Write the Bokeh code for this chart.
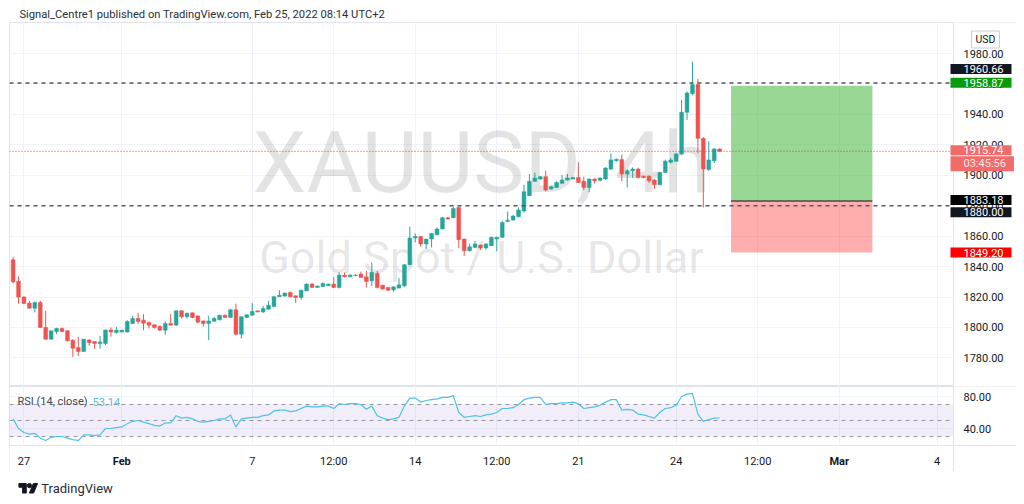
from bokeh.plotting import figure
from bokeh.layouts import column
from bokeh.models import (ColumnDataSource, Range1d, FixedTicker, Span, Label, Grid,
                          NumeralTickFormatter, BoxAnnotation, LinearAxis)
from bokeh.embed import file_html
from bokeh.resources import INLINE

# ------------------------------------------------------------------ data
opens = [1844.5, 1830.3, 1820.0, 1816.0, 1812.7, 1816.4, 1800.0, 1792.3, 1797.3, 1799.3,
         1797.8, 1791.6, 1786.8, 1784.2, 1791.8, 1790.7, 1789.4, 1789.4, 1798.4, 1796.7,
         1797.0, 1797.0, 1802.6, 1805.9, 1804.8, 1803.2, 1801.7, 1800.6, 1798.2, 1802.6,
         1801.5, 1810.9, 1807.0, 1809.6, 1807.6, 1804.3, 1802.6, 1804.1, 1805.0, 1808.1,
         1806.6, 1811.6, 1795.6, 1806.6, 1808.1, 1810.9, 1810.2, 1812.0, 1813.8, 1820.2,
         1820.6, 1823.0, 1820.8, 1819.7, 1824.1, 1828.5, 1826.3, 1826.9, 1827.4, 1828.5,
         1826.3, 1834.4, 1833.3, 1834.1, 1835.1, 1833.3, 1830.6, 1835.5, 1827.8, 1826.3,
         1824.7, 1825.9, 1827.4, 1841.2, 1858.8, 1859.7, 1854.9, 1858.1, 1860.9, 1864.7,
         1872.1, 1872.1, 1878.8, 1858.1, 1850.4, 1852.6, 1854.2, 1852.2, 1853.7, 1858.1,
         1859.2, 1869.7, 1870.6, 1872.8, 1876.5, 1886.6, 1896.0, 1897.5, 1899.1, 1891.0,
         1892.0, 1894.7, 1896.9, 1897.5, 1898.6, 1896.0, 1892.0, 1897.5, 1896.7, 1897.5,
         1904.1, 1909.6, 1910.3, 1900.8, 1903.0, 1904.1, 1899.4, 1899.4, 1896.9, 1893.8,
         1901.9, 1908.5, 1909.2, 1914.0, 1941.4, 1953.5, 1959.6, 1924.3, 1903.8, 1909.6,
         1917.3]
highs = [1846.5, 1833.6, 1820.5, 1817.5, 1817.0, 1817.5, 1810.9, 1797.8, 1799.8, 1800.0,
         1798.2, 1792.3, 1793.8, 1792.3, 1792.3, 1791.0, 1794.5, 1798.4, 1800.0, 1800.4,
         1798.5, 1804.8, 1807.6, 1809.6, 1808.8, 1803.9, 1802.0, 1801.3, 1803.9, 1808.8,
         1811.0, 1811.4, 1809.8, 1809.8, 1808.0, 1804.5, 1807.6, 1806.8, 1808.3, 1808.4,
         1812.2, 1815.7, 1807.2, 1808.5, 1816.0, 1811.0, 1814.2, 1817.5, 1820.4, 1824.5,
         1822.8, 1823.6, 1821.0, 1824.7, 1829.0, 1829.1, 1827.5, 1829.6, 1828.8, 1833.3,
         1836.2, 1836.2, 1835.0, 1835.0, 1836.6, 1837.2, 1842.7, 1837.2, 1828.0, 1826.6,
         1827.0, 1832.4, 1841.6, 1866.2, 1861.8, 1860.0, 1858.3, 1862.0, 1865.8, 1872.5,
         1872.7, 1879.3, 1879.5, 1858.3, 1855.2, 1857.0, 1854.5, 1855.2, 1859.6, 1859.6,
         1870.1, 1876.2, 1874.0, 1878.9, 1893.8, 1900.8, 1901.9, 1899.5, 1903.0, 1893.0,
         1896.0, 1900.2, 1900.8, 1899.0, 1908.5, 1899.1, 1898.0, 1898.0, 1898.6, 1905.2,
         1914.4, 1911.0, 1913.6, 1904.0, 1905.2, 1905.0, 1899.8, 1900.0, 1897.5, 1902.2,
         1910.3, 1911.5, 1914.6, 1949.5, 1955.0, 1974.7, 1963.3, 1925.0, 1922.3, 1917.8,
         1917.6]
lows = [1829.0, 1815.7, 1815.3, 1812.5, 1809.9, 1799.5, 1792.0, 1792.0, 1795.6, 1797.0,
        1790.7, 1780.7, 1781.3, 1784.0, 1787.9, 1786.0, 1786.0, 1788.4, 1794.0, 1796.0,
        1796.8, 1796.7, 1802.4, 1802.2, 1798.2, 1799.3, 1799.3, 1797.8, 1795.1, 1801.2,
        1801.3, 1805.9, 1805.9, 1806.0, 1802.9, 1800.6, 1791.6, 1803.8, 1804.8, 1806.3,
        1806.4, 1795.1, 1792.7, 1806.3, 1807.8, 1810.0, 1809.4, 1811.8, 1813.2, 1820.0,
        1820.4, 1819.6, 1816.0, 1818.2, 1823.9, 1826.0, 1826.0, 1826.7, 1827.2, 1826.0,
        1825.6, 1833.0, 1833.0, 1833.8, 1832.7, 1826.3, 1827.4, 1825.6, 1825.0, 1824.0,
        1823.6, 1825.7, 1826.7, 1841.0, 1855.9, 1853.0, 1851.5, 1852.6, 1860.7, 1864.5,
        1871.0, 1871.9, 1852.2, 1847.1, 1850.0, 1852.4, 1851.0, 1851.2, 1853.5, 1850.0,
        1858.8, 1869.2, 1870.2, 1872.3, 1875.5, 1886.4, 1895.8, 1897.0, 1889.4, 1890.5,
        1891.8, 1894.5, 1896.5, 1897.3, 1895.0, 1890.3, 1888.8, 1894.5, 1896.0, 1897.0,
        1903.5, 1909.0, 1896.0, 1892.0, 1898.2, 1898.0, 1898.0, 1895.0, 1891.0, 1893.5,
        1901.5, 1907.8, 1908.8, 1913.5, 1936.4, 1953.0, 1914.4, 1878.9, 1903.0, 1908.0,
        1915.5]
closes = [1830.0, 1820.0, 1815.7, 1812.7, 1816.4, 1800.0, 1792.3, 1797.8, 1799.3, 1797.3,
          1791.2, 1786.4, 1784.2, 1792.3, 1790.0, 1789.4, 1790.5, 1798.4, 1797.0, 1798.2,
          1798.2, 1803.9, 1805.9, 1803.9, 1802.8, 1801.5, 1800.0, 1798.2, 1802.6, 1801.5,
          1810.9, 1807.0, 1809.3, 1806.6, 1803.5, 1802.6, 1804.3, 1805.9, 1808.1, 1806.6,
          1811.6, 1795.6, 1807.0, 1808.3, 1810.5, 1810.2, 1812.4, 1814.6, 1820.2, 1821.2,
          1822.6, 1820.2, 1819.7, 1824.5, 1828.5, 1826.3, 1827.2, 1828.9, 1828.5, 1826.3,
          1834.4, 1833.3, 1834.4, 1834.4, 1832.9, 1830.2, 1836.2, 1826.3, 1825.2, 1824.5,
          1826.7, 1828.0, 1841.2, 1858.8, 1859.7, 1854.9, 1858.1, 1861.8, 1864.7, 1872.1,
          1871.3, 1878.2, 1857.7, 1850.4, 1853.0, 1854.9, 1852.2, 1854.9, 1859.2, 1859.2,
          1869.0, 1870.5, 1873.2, 1877.2, 1889.2, 1896.0, 1898.2, 1899.1, 1890.3, 1892.5,
          1895.3, 1896.9, 1898.2, 1898.6, 1895.3, 1892.0, 1897.5, 1896.4, 1898.2, 1904.8,
          1910.1, 1910.5, 1900.8, 1903.0, 1904.1, 1898.6, 1898.6, 1896.4, 1893.8, 1901.9,
          1909.2, 1910.1, 1914.0, 1941.4, 1954.1, 1959.6, 1924.3, 1904.1, 1910.1, 1917.3,
          1915.74]
rsi = [52, 40, 35, 33, 34, 28, 25, 29, 30, 30,
       28, 26, 25, 32, 32, 31, 32, 40, 40, 41,
       42, 46, 49, 50, 48, 46, 44, 43, 47, 47,
       56, 53, 54, 52, 49, 48, 49, 50, 52, 52,
       57, 42, 52, 53, 54, 54, 56, 57, 62, 63,
       63, 61, 62, 65, 68, 67, 67, 68, 68, 65,
       71, 70, 71, 71, 70, 64, 68, 56, 53, 51,
       52, 54, 68, 78, 78, 73, 75, 76, 77, 79,
       79, 81, 60, 54, 55, 56, 55, 57, 58, 60,
       65, 65, 66, 70, 76, 78, 79, 79, 70, 71,
       71, 72, 72, 73, 71, 65, 66, 67, 69, 73,
       76, 76, 63, 64, 63, 58, 57, 55, 53, 60,
       65, 66, 69, 80, 83, 84, 58, 49, 51, 53,
       53.14]

price_ticks = [1780, 1800, 1820, 1840, 1860, 1880, 1900, 1920, 1940, 1960, 1980]
rsi_ticks = [40, 80]
rsi_levels = [30, 50, 70]
time_ticks = [2, 20, 44, 59, 74, 89, 104, 122, 137, 152, 170]
time_labels = ["27", "Feb", "7", "12:00", "14", "12:00", "21", "24", "12:00", "Mar", "4"]
month_labels = ["Feb", "Mar"]
hline_levels = [1960.66, 1880.00]
entry_price = 1883.18
target_price = 1958.87
stop_price = 1849.20
position_bars = [132.1, 158.1]
rsi_last = "53.14"
timer_text = "03:45:56"
symbol_text = "XAUUSD, 4h"
desc_text = "Gold Spot / U.S. Dollar"
header_text = "Signal_Centre1 published on TradingView.com, Feb 25, 2022 08:14 UTC+2"
rsi_title = "RSI (14, close)"
currency = "USD"
brand = "TradingView"

# ------------------------------------------------------------------ style / layout
FONT = "Roboto"
UP, DN = "#26a69a", "#ef5350"
GRID = "#f0f3fa"
BORDER = "#e0e3eb"
TXT = "#131722"
RSI_C = "#4cc3e6"
ML = 9                      # left offset of the panes in the page
FW = 1007                   # frame width (panes + price scale column)
PANE_W = 944                # width of the pane part
PH, RH, TH = 364, 59, 26    # price pane, RSI pane, time-scale row heights
PX = 5.435                  # px per bar
X0 = -0.66
X1 = X0 + FW / PX
BOUND = X0 + PANE_W / PX    # x of the price-scale border
W = ML + FW
RSI_PX = 0.8                # px per RSI unit

bars = list(range(len(closes)))
src = ColumnDataSource(dict(
    x=bars, h=highs, l=lows,
    top=[max(o, c) for o, c in zip(opens, closes)],
    bottom=[min(o, c) for o, c in zip(opens, closes)],
    color=[UP if c >= o else DN for o, c in zip(opens, closes)],
))
xr = Range1d(X0, X1)


def style_axis(a, standoff):
    a.axis_line_color = None
    a.major_tick_line_color = None
    a.minor_tick_line_color = None
    a.major_tick_out = 0
    a.major_tick_in = 0
    a.major_label_standoff = standoff
    a.major_label_text_font = FONT
    a.major_label_text_font_size = "11px"
    a.major_label_text_color = TXT


# ------------------------------------------------------------------ header
head = figure(width=W, height=22, x_range=Range1d(0, W), y_range=Range1d(0, 22),
              x_axis_location=None, y_axis_location=None, toolbar_location=None,
              output_backend="svg", min_border_left=0, min_border_right=0,
              min_border_top=0, min_border_bottom=0)
head.outline_line_color = None
head.xgrid.visible = False
head.ygrid.visible = False
head.add_layout(Label(x=10, y=8.5, text=header_text, text_font=FONT, text_font_size="11.2px",
                      text_color="#2a2e39", text_baseline="middle", text_align="left"))

# ------------------------------------------------------------------ price pane
y0, y1 = 1761.2, 2000.4
price = figure(frame_width=FW, frame_height=PH, x_range=xr, y_range=Range1d(y0, y1),
               x_axis_location=None, y_axis_location="right", toolbar_location=None,
               output_backend="svg", min_border_left=ML, min_border_right=0,
               min_border_top=0, min_border_bottom=0)
price.outline_line_color = BORDER
price.xgrid.visible = False
price.ygrid.grid_line_color = GRID
price.ygrid.ticker = FixedTicker(ticks=price_ticks)
price.add_layout(Grid(dimension=0, ticker=FixedTicker(ticks=time_ticks), grid_line_color=GRID))
ax = price.yaxis[0]
ax.ticker = FixedTicker(ticks=price_ticks)
ax.formatter = NumeralTickFormatter(format="0.00")
ax.fixed_location = BOUND
style_axis(ax, 10)

# watermark
price.add_layout(Label(x=PANE_W / 2, y=224, x_units="screen", y_units="screen", text=symbol_text,
                       text_font=FONT, text_font_size="86px", text_color="#000000",
                       text_alpha=0.11, text_align="center", text_baseline="middle", level="underlay"))
price.add_layout(Label(x=PANE_W / 2, y=129, x_units="screen", y_units="screen", text=desc_text,
                       text_font=FONT, text_font_size="45px", text_color="#000000",
                       text_alpha=0.11, text_align="center", text_baseline="middle", level="underlay"))

# position tool
price.quad(left=[position_bars[0]], right=[position_bars[1]], bottom=[entry_price], top=[target_price],
           fill_color="#31af29", fill_alpha=0.5, line_color=None)
price.quad(left=[position_bars[0]], right=[position_bars[1]], bottom=[stop_price], top=[entry_price],
           fill_color="#ff3232", fill_alpha=0.4, line_color=None)
price.segment(x0=[position_bars[0]], x1=[position_bars[1]], y0=[entry_price], y1=[entry_price],
              line_color="#4a4a4a", line_width=1.5)

# candles
price.segment(x0="x", y0="h", x1="x", y1="l", line_color="color", line_width=1, source=src)
price.vbar(x="x", top="top", bottom="bottom", width=0.7, fill_color="color", line_color="color",
           line_width=0.5, source=src)

# horizontal levels
price.segment(x0=[X0] * len(hline_levels), x1=[BOUND] * len(hline_levels), y0=hline_levels,
              y1=hline_levels, line_color="#55585f", line_dash="4 4", line_width=1.4)
price.segment(x0=[X0], x1=[BOUND], y0=[closes[-1]], y1=[closes[-1]], line_color="#f23645",
              line_dash="1 2", line_width=1)

# price scale column
price.quad(left=[BOUND], right=[X1 + 1], bottom=[y0 - 1], top=[y1 + 1], fill_color="#ffffff",
           line_color=None)
price.add_layout(Span(location=BOUND, dimension="height", line_color=BORDER, line_width=1))


def tag(fig, yv, text, bg, yoff=0, color="#ffffff"):
    fig.add_layout(Label(x=PANE_W - 3, y=yv, x_units="screen", y_units="data", y_offset=yoff,
                         text=text, text_font=FONT, text_font_size="11px", text_color=color,
                         text_align="left", text_baseline="middle", background_fill_color=bg,
                         padding=dict(left=13, right=8, top=1, bottom=1), level="overlay"))


tag(price, hline_levels[0], "%.2f" % hline_levels[0], "#131722", 14)
tag(price, target_price, "%.2f" % target_price, "#0a9a0a", 3)
tag(price, closes[-1], "%.2f" % closes[-1], "#f26b6b", 1)
tag(price, closes[-1], timer_text, "#f26b6b", -12.5, "#fde6e6")
tag(price, entry_price, "%.2f" % entry_price, "#000000", 1)
tag(price, hline_levels[1], "%.2f" % hline_levels[1], "#131722", -6.5)
tag(price, stop_price, "%.2f" % stop_price, "#ff0000", 0)

price.add_layout(Label(x=976, y=347, x_units="screen", y_units="screen", text=currency,
                       text_font=FONT, text_font_size="10.5px", text_color=TXT,
                       text_align="center", text_baseline="middle",
                       background_fill_color="#ffffff", border_line_color="#c9ccd4",
                       padding=dict(left=4, right=4, top=2, bottom=2), level="overlay"))

# ------------------------------------------------------------------ RSI pane (+ time scale row)
r_top = 92.5
r_pane_bottom = r_top - RH / RSI_PX
r_bottom = r_pane_bottom - TH / RSI_PX
rp = figure(frame_width=FW, frame_height=RH + TH, x_range=xr, y_range=Range1d(r_bottom, r_top),
            x_axis_location="below", y_axis_location="right", toolbar_location=None,
            output_backend="svg", min_border_left=ML, min_border_right=0,
            min_border_top=0, min_border_bottom=0)
rp.outline_line_color = BORDER
rp.xgrid.visible = False
rp.add_layout(Grid(dimension=0, ticker=FixedTicker(ticks=time_ticks), grid_line_color=GRID))
ra = rp.yaxis[0]
ra.ticker = FixedTicker(ticks=rsi_ticks)
ra.formatter = NumeralTickFormatter(format="0.00")
ra.fixed_location = BOUND
style_axis(ra, 10)
rp.ygrid.ticker = FixedTicker(ticks=rsi_ticks)
rp.ygrid.grid_line_color = GRID

rp.add_layout(BoxAnnotation(bottom=rsi_levels[0], top=rsi_levels[2], right=BOUND,
                            fill_color="#7e57c2", fill_alpha=0.1, line_color=None, level="underlay"))
rp.segment(x0=[X0] * len(rsi_levels), x1=[BOUND] * len(rsi_levels), y0=rsi_levels, y1=rsi_levels,
           line_color="#9598a1", line_dash="4 4", line_width=1)
rp.line(bars, rsi, line_color=RSI_C, line_width=1.2)
# price-scale column and time-scale row backgrounds
rp.quad(left=[BOUND], right=[X1 + 1], bottom=[r_bottom - 1], top=[r_top + 1], fill_color="#ffffff",
        line_color=None)
rp.quad(left=[X0 - 1], right=[X1 + 1], bottom=[r_bottom - 1], top=[r_pane_bottom],
        fill_color="#ffffff", line_color=None)
rp.add_layout(Span(location=BOUND, dimension="height", line_color=BORDER, line_width=1))
rp.add_layout(Span(location=r_pane_bottom, dimension="width", line_color=BORDER, line_width=1))

xa = rp.xaxis[0]
xa.ticker = FixedTicker(ticks=time_ticks)
xa.fixed_location = r_pane_bottom
xa.major_label_overrides = {t: ("" if lab in month_labels else lab)
                            for t, lab in zip(time_ticks, time_labels)}
style_axis(xa, 9)
mx = LinearAxis(ticker=FixedTicker(ticks=time_ticks), fixed_location=r_pane_bottom,
                major_label_overrides={t: (lab if lab in month_labels else "")
                                       for t, lab in zip(time_ticks, time_labels)})
style_axis(mx, 9)
mx.major_label_text_font_style = "bold"
rp.add_layout(mx, "below")

rp.add_layout(Label(x=8, y=TH + 44, x_units="screen", y_units="screen", text=rsi_title,
                    text_font=FONT, text_font_size="11px", text_color="#434651",
                    text_baseline="middle", text_align="left"))
rp.add_layout(Label(x=83, y=TH + 44, x_units="screen", y_units="screen", text=rsi_last,
                    text_font=FONT, text_font_size="11px", text_color=RSI_C,
                    text_baseline="middle", text_align="left"))

# ------------------------------------------------------------------ footer
foot = figure(width=W, height=28, x_range=Range1d(0, W), y_range=Range1d(0, 28),
              x_axis_location=None, y_axis_location=None, toolbar_location=None,
              output_backend="svg", min_border_left=0, min_border_right=0,
              min_border_top=0, min_border_bottom=0)
foot.outline_line_color = None
foot.xgrid.visible = False
foot.ygrid.visible = False
# TradingView logo (T, dot, slash) in logo units, scaled
s = 0.53
ox, oy = ML + 0.5, 16.0
T_u = [(0, 4), (14, 4), (14, 22), (7, 22), (7, 11), (0, 11)]
P_u = [(20, 22), (27.5, 4), (35.5, 4), (28, 22)]
foot.patch([ox + u * s for u, v in T_u], [oy - (v - 4) * s for u, v in T_u], color="#131722")
foot.patch([ox + u * s for u, v in P_u], [oy - (v - 4) * s for u, v in P_u], color="#131722")
foot.scatter([ox + 20 * s], [oy - 4 * s], size=4 * s * 2, color="#131722")
foot.add_layout(Label(x=32, y=11, text=brand, text_font=FONT, text_font_size="13px",
                      text_color="#2a2e39", text_baseline="middle", text_align="left"))

page = column(head, price, rp, foot, spacing=0)
open("out.html", "w").write(file_html(page, INLINE))
